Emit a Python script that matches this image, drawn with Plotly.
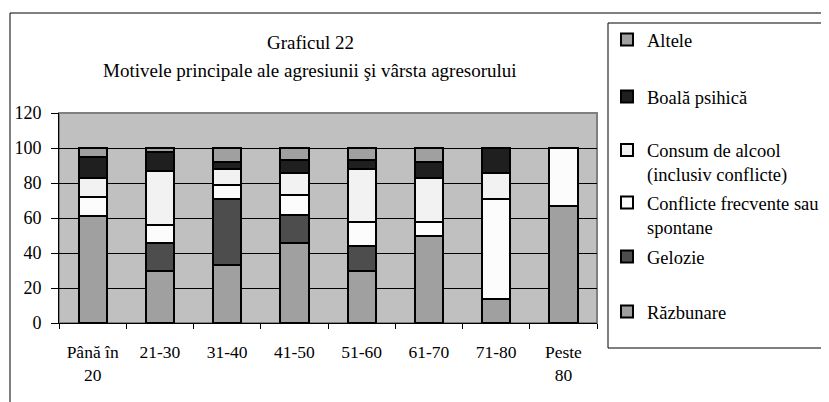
import plotly.graph_objects as go

categories = ["Până în<br>20", "21-30", "31-40", "41-50", "51-60", "61-70", "71-80", "Peste<br>80"]
razbunare = [61, 30, 33, 46, 30, 50, 14, 67]
gelozie = [0, 16, 38, 16, 14, 0, 0, 0]
conflicte = [11, 10, 8, 11, 14, 8, 57, 33]
consum = [11, 31, 9, 13, 30, 25, 15, 0]
boala = [12, 11, 4, 7, 5, 9, 14, 0]
altele = [5, 2, 8, 7, 7, 8, 0, 0]

series_names = ["Răzbunare", "Gelozie", "Conflicte frecvente sau<br>spontane",
                "Consum de alcool<br>(inclusiv conflicte)", "Boală psihică", "Altele"]
series_values = [razbunare, gelozie, conflicte, consum, boala, altele]
series_colors = ["#A0A0A0", "#4D4D4D", "#FCFCFC", "#F2F2F2", "#1F1F1F", "#A0A0A0"]

FONT = "Liberation Serif, Times New Roman, serif"

# page body has an 8px margin; compensate so the figure lands at window coords
OFF = 8
W, H = 829 - OFF, 402 - OFF
L, R, T, B = 59 - OFF, W - (597 - OFF), 113 - OFF, H - (323 - OFF)
pw, ph = W - L - R, H - T - B


def px(x):  # window x -> paper fraction
    return (x - OFF - L) / pw


def py(y):  # window y -> paper fraction
    return (H - B - (y - OFF)) / ph


# legend item centres (window px)
legend_y = [312, 257, 215, 162.5, 97, 40]

fig = go.Figure()
layout_legends = {}
for i, (name, vals, col) in enumerate(zip(series_names, series_values, series_colors)):
    lg = "legend" if i == 0 else f"legend{i + 1}"
    fig.add_trace(go.Bar(
        x=categories, y=vals, name=name,
        marker=dict(color=col, line=dict(color="black", width=2)),
        legend=lg,
    ))
    layout_legends[lg] = dict(
        x=px(607), y=py(legend_y[i]), xanchor="left", yanchor="middle",
        xref="paper", yref="paper", valign="top",
        bgcolor="rgba(0,0,0,0)", borderwidth=0,
        font=dict(family=FONT, size=18.5, color="black"),
        itemclick=False, itemdoubleclick=False,
    )

fig.update_layout(
    width=W, height=H,
    margin=dict(l=L, r=R, t=T, b=B, pad=0, autoexpand=False),
    barmode="stack", bargap=0.58,
    paper_bgcolor="white", plot_bgcolor="#C0C0C0",
    font=dict(family=FONT, size=18, color="black"),
    showlegend=True,
    xaxis=dict(
        type="category", showline=True, linecolor="black", linewidth=1,
        ticks="outside", tickson="boundaries", ticklen=5, tickcolor="black",
        showgrid=False, tickfont=dict(family=FONT, size=17.5, color="black"),
        ticklabelstandoff=13, automargin=False,
    ),
    yaxis=dict(
        range=[0, 120], dtick=20, showline=True, linecolor="black", linewidth=1,
        ticks="outside", ticklen=7, tickcolor="black",
        showgrid=True, gridcolor="black", gridwidth=1,
        zeroline=False, tickfont=dict(family=FONT, size=18, color="black"),
        ticklabelstandoff=6, automargin=False,
    ),
    annotations=[
        dict(text="Graficul 22", xref="paper", yref="paper",
             x=px(310), y=py(42), xanchor="center", yanchor="middle",
             showarrow=False, font=dict(family=FONT, size=19, color="black")),
        dict(text="Motivele principale ale agresiunii şi vârsta agresorului",
             xref="paper", yref="paper",
             x=px(310), y=py(70), xanchor="center", yanchor="middle",
             showarrow=False, font=dict(family=FONT, size=19, color="black")),
    ],
    shapes=[
        dict(type="rect", xref="paper", yref="paper",
             x0=px(10), x1=px(850), y0=py(420), y1=py(13),
             line=dict(color="black", width=1), fillcolor="rgba(0,0,0,0)", layer="below"),
        dict(type="rect", xref="paper", yref="paper",
             x0=0, x1=1, y0=0, y1=1,
             line=dict(color="#808080", width=2), fillcolor="rgba(0,0,0,0)", layer="below"),
        dict(type="rect", xref="paper", yref="paper",
             x0=px(608), x1=px(850), y0=py(348), y1=py(23),
             line=dict(color="black", width=1), fillcolor="white", layer="below"),
    ],
    **layout_legends,
)

fig.write_html("out.html")
